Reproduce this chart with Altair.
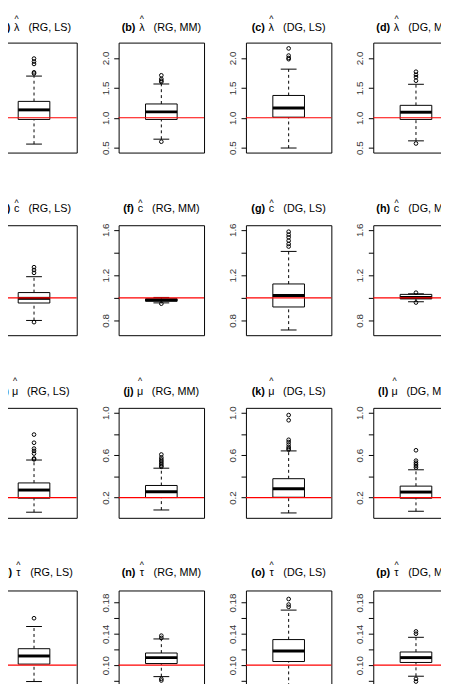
import json
import altair as alt
import pandas as pd

# ---------------- data ----------------
letters = list("abcdefghijklmnop")
symbols = ["λ", "c", "μ", "τ"]
methods = ["(RG, LS)", "(RG, MM)", "(DG, LS)", "(DG, MM)"]
true_values = [1.0, 1.0, 0.2, 0.1]

y_domains = [[0.418, 2.257], [0.670, 1.640], [0.009, 1.046], [0.0548, 0.1955]]
tick_values = [[0.5, 1.0, 1.5, 2.0],
               [0.8, 1.0, 1.2, 1.4, 1.6],
               [0.2, 0.4, 0.6, 0.8, 1.0],
               [0.06, 0.08, 0.10, 0.12, 0.14, 0.16, 0.18]]
tick_labels = [["0.5", "1.0", "1.5", "2.0"],
               ["0.8", "1.2", "1.6"],
               ["0.2", "0.6", "1.0"],
               ["0.06", "0.10", "0.14", "0.18"]]
tick_formats = [".1f", ".1f", ".1f", ".2f"]

lower_whisker = [0.560, 0.642, 0.494, 0.614,
                 0.800, 0.955, 0.716, 0.965,
                 0.062, 0.083, 0.055, 0.071,
                 0.079, 0.0853, 0.058, 0.0858]
q1 = [0.972, 0.972, 1.010, 0.972,
      0.954, 0.970, 0.919, 0.990,
      0.194, 0.200, 0.203, 0.194,
      0.1013, 0.1020, 0.1046, 0.1034]
median = [1.132, 1.099, 1.165, 1.093,
          0.995, 0.980, 1.020, 1.003,
          0.271, 0.255, 0.283, 0.252,
          0.1117, 0.1096, 0.1180, 0.1096]
q3 = [1.274, 1.231, 1.373, 1.208,
      1.046, 0.990, 1.122, 1.030,
      0.338, 0.314, 0.378, 0.308,
      0.1210, 0.1155, 0.1327, 0.1168]
upper_whisker = [1.697, 1.565, 1.813, 1.560,
                 1.186, 1.003, 1.409, 1.035,
                 0.554, 0.477, 0.640, 0.462,
                 0.1494, 0.1335, 0.1704, 0.1356]
outliers = [
    [1.99, 1.94, 1.90, 1.76, 1.74],
    [1.71, 1.65, 1.62, 1.60, 0.60],
    [2.16, 2.04, 2.00, 1.98],
    [1.77, 1.72, 1.68, 1.62, 0.57],
    [1.27, 1.245, 1.22, 0.785],
    [0.948],
    [1.583, 1.557, 1.533, 1.504, 1.475, 1.452],
    [1.045, 0.958],
    [0.794, 0.717, 0.662, 0.640, 0.615, 0.569, 0.560],
    [0.606, 0.578, 0.560, 0.545, 0.530, 0.515, 0.500, 0.490],
    [0.978, 0.929, 0.745, 0.723, 0.700, 0.677, 0.662, 0.652],
    [0.646, 0.548, 0.529, 0.514, 0.498, 0.483],
    [0.160, 0.068],
    [0.1377, 0.1348, 0.0824, 0.0803],
    [0.1846, 0.1775, 0.1746],
    [0.1431, 0.1402, 0.0824, 0.0790],
]

# ---------------- layout / style ----------------
PW, PH = 87, 112
HSP, VSP = 42.67, 74
FONT = "Liberation Sans"
TSIZE = 11
title_y = [-12, -13, -13, -14.5]
hat_y = [-20.8, -19.8, -24.1, -22.8]

AR = {" ": 278, "(": 333, ")": 333, ",": 278, "R": 722, "G": 778, "D": 722,
      "L": 556, "S": 667, "M": 833}
AB = {"(": 333, ")": 333, "a": 556, "b": 611, "c": 556, "d": 611, "e": 556,
      "f": 333, "g": 611, "h": 611, "i": 278, "j": 278, "k": 556, "l": 278,
      "m": 889, "n": 611, "o": 611, "p": 611}


def tw(s, table, size):
    return sum(table[ch] for ch in s) * size / 1000.0


XS = alt.Scale(domain=[0.46, 1.54], nice=False, zero=False)


def panel(i):
    r, c = divmod(i, 4)
    yscale = alt.Scale(domain=y_domains[r], nice=False, zero=False)
    expr = "indexof(%s, datum.label) >= 0 ? datum.label : ''" % json.dumps(tick_labels[r])
    if c == 0:
        # the first column's axis lies outside the cropped picture
        yaxis = None
    else:
        yaxis = alt.Axis(values=tick_values[r], format=tick_formats[r], labelExpr=expr,
                         grid=False, domain=False, ticks=True, tickSize=5,
                         tickColor="black", tickWidth=1, labelAngle=270,
                         labelAlign="center", labelBaseline="bottom", labelPadding=3.5,
                         labelFont=FONT, labelFontSize=10, labelColor="#333",
                         title=None, labelOverlap=False)

    def Y(f):
        return alt.Y(f + ":Q", scale=yscale, axis=yaxis)

    def X(f):
        return alt.X(f + ":Q", scale=XS, axis=None)

    summ = pd.DataFrame({
        "pos": [1.0], "lower": [lower_whisker[i]], "q1": [q1[i]],
        "median": [median[i]], "q3": [q3[i]], "upper": [upper_whisker[i]],
        "truth": [true_values[r]],
        "bold_label": ["(%s)" % letters[i]], "symbol": [symbols[r]],
        "rest": [methods[c]], "hat": ["^"],
    })
    outl = pd.DataFrame({"pos": [1.0] * len(outliers[i]), "value": outliers[i]})

    base = alt.Chart(summ).transform_calculate(
        box_lo="datum.pos - 0.2", box_hi="datum.pos + 0.2",
        cap_lo="datum.pos - 0.1", cap_hi="datum.pos + 0.1")

    whisk_hi = base.mark_rule(color="black", strokeWidth=1, strokeDash=[3, 3]).encode(
        x=X("pos"), y=Y("q3"), y2="upper:Q")
    whisk_lo = base.mark_rule(color="black", strokeWidth=1, strokeDash=[3, 3]).encode(
        x=X("pos"), y=Y("lower"), y2="q1:Q")
    cap_hi = base.mark_rule(color="black", strokeWidth=1).encode(
        x=X("cap_lo"), x2="cap_hi:Q", y=Y("upper"))
    cap_lo = base.mark_rule(color="black", strokeWidth=1).encode(
        x=X("cap_lo"), x2="cap_hi:Q", y=Y("lower"))
    box = base.mark_rect(fill="white", stroke="black", strokeWidth=1).encode(
        x=X("box_lo"), x2="box_hi:Q", y=Y("q1"), y2="q3:Q")
    med = base.mark_rule(color="black", strokeWidth=3, strokeCap="butt").encode(
        x=X("box_lo"), x2="box_hi:Q", y=Y("median"))
    pts = alt.Chart(outl).mark_point(shape="circle", filled=False, size=14,
                                     strokeWidth=1, color="black", opacity=1).encode(
        x=X("pos"), y=Y("value"))
    truth = base.mark_rule(color="#ff0000", strokeWidth=1.2).encode(y=Y("truth"))

    # title composed of bold tag, hatted symbol and method
    wb = tw("(%s)" % letters[i], AB, TSIZE)
    wr = tw(methods[c], AR, TSIZE)
    total = wb + 3.5 + 6 + 9 + wr
    x0 = PW / 2 - total / 2
    gx = x0 + wb + 3.5 + 3
    rx = x0 + wb + 18.5
    t_bold = base.mark_text(align="left", baseline="alphabetic", font=FONT,
                            fontSize=TSIZE, fontWeight="bold", color="black").encode(
        x=alt.value(x0), y=alt.value(title_y[r]), text="bold_label:N")
    t_sym = base.mark_text(align="center", baseline="alphabetic", font=FONT,
                           fontSize=TSIZE, color="black").encode(
        x=alt.value(gx), y=alt.value(title_y[r]), text="symbol:N")
    t_hat = base.mark_text(align="center", baseline="alphabetic", font=FONT,
                           fontSize=9, color="black").encode(
        x=alt.value(gx), y=alt.value(hat_y[r]), text="hat:N")
    t_rest = base.mark_text(align="left", baseline="alphabetic", font=FONT,
                            fontSize=TSIZE, color="black").encode(
        x=alt.value(rx), y=alt.value(title_y[r]), text="rest:N")

    return alt.layer(whisk_hi, whisk_lo, cap_hi, cap_lo, box, med, pts, truth,
                     t_bold, t_sym, t_hat, t_rest).properties(width=PW, height=PH)


# The reference is a crop of a larger figure: the view is placed with fixed
# padding (no autosizing) so that the outer panels are cut at the page edges,
# while the page itself never overflows the window.
chart = alt.concat(*[panel(i) for i in range(16)], columns=4,
                   spacing={"row": VSP, "column": HSP}, bounds="flush",
                   autosize=alt.AutoSizeParams(type="none"),
                   padding={"left": -17, "top": 29, "right": 458, "bottom": 647}
                   ).configure_view(stroke="black", strokeWidth=1)

chart.save("out.html", embed_options={"renderer": "svg", "actions": False})
